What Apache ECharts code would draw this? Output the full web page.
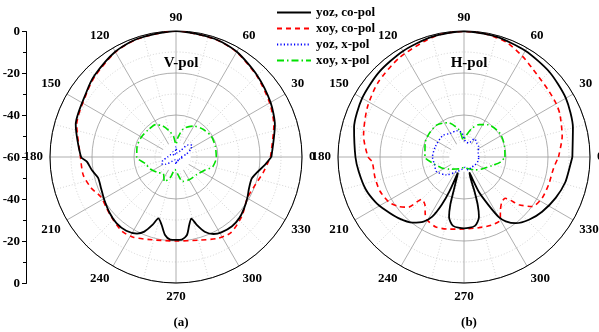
<!DOCTYPE html>
<html>
<head>
<meta charset="utf-8">
<script src="https://cdn.jsdelivr.net/npm/echarts@6.0.0/dist/echarts.min.js"></script>
<style>
  html, body { margin: 0; background: #fff; }
  #chart { width: 599px; height: 332px; }
</style>
</head>
<body>
<div id="chart"></div>
<script>
// angle ticks and the dB scale on the left ruler
const angleTicks = [0, 30, 60, 90, 120, 150, 180, 210, 240, 270, 300, 330];
const dbTicks = ['0', '-20', '-40', '-60', '-40', '-20', '0'];
const seriesNames = ['yoz, co-pol', 'xoy, co-pol', 'yoz, x-pol', 'xoy, x-pol'];

// (a) V-pol
const vYozCoAng = [0, 18, 30, 45, 60, 72, 90, 108, 120, 135, 144, 162, 180, 183, 189, 195, 203, 211, 220, 228, 236, 243, 247, 251, 254, 258, 262, 266, 270, 274, 278, 281, 284, 287, 291, 296, 301, 309, 316, 323, 330, 337, 344, 349, 355, 360];
const vYozCoDb = [-14.6, -10.5, -8.0, -5.2, -2.1, -0.8, 0, -0.8, -2.1, -5.1, -7.3, -9.8, -14.8, -17.5, -19.5, -21.6, -21.3, -20.2, -18.7, -17.6, -17.6, -19.1, -21.4, -25.9, -29.6, -27, -22.5, -20.6, -20.5, -20.6, -22.5, -27, -29.8, -26.2, -21.9, -19.2, -18.1, -17.6, -18.1, -19.4, -20.8, -22.2, -22.5, -20.8, -17.5, -14.6];
const vXoyCoAng = [0, 18, 30, 45, 60, 72, 90, 108, 120, 135, 144, 162, 180, 191, 200, 208, 216, 223, 234, 242, 254, 270, 285, 297, 306, 318, 330, 340, 350, 357, 360];
const vXoyCoDb = [-15, -11, -8.5, -5.5, -2.3, -0.9, 0, -0.9, -2.3, -5.5, -7.6, -10.3, -14.5, -15, -17, -19.5, -19, -18, -16.3, -16.7, -19, -20, -19, -16.5, -15.5, -17.8, -20.8, -20.1, -17.8, -16, -15];
const vYozXAng = [0, 15, 28, 37, 45, 55, 75, 90, 105, 120, 140, 160, 180, 195, 205, 215, 230, 250, 270, 290, 310, 330, 345, 360];
const vYozXDb = [-57.5, -55, -52, -50.5, -52, -56.5, -58, -55, -58.5, -57, -58.5, -57, -56, -53.5, -52.5, -54, -57.5, -58.5, -56.5, -58.5, -57.5, -58, -57, -57.5];
const vXoyXAng = [0, 15, 30, 45, 60, 75, 85, 90, 97, 105, 113, 122, 135, 150, 165, 180, 192, 205, 220, 233, 245, 255, 265, 275, 285, 300, 320, 335, 345, 355, 360];
const vXoyXDb = [-40.8, -40.6, -40.5, -41.5, -43, -46, -51, -54, -50, -47, -44, -41.8, -41.5, -41, -40.8, -41.3, -45, -46.5, -48.5, -50, -47, -50, -54, -52, -48, -47.5, -47, -45, -42, -41, -40.8];

// (b) H-pol
const hYozCoAng = [0, 15, 30, 45, 60, 75, 90, 105, 120, 135, 150, 165, 180, 188, 198, 207, 214, 223, 232, 238, 242, 245, 247, 248.5, 250, 253, 254, 256, 261, 270, 279, 284, 286, 287, 289.5, 291, 293, 297, 300, 303, 308, 316, 325, 336, 346, 356, 360];
const hYozCoDb = [-8.4, -6.3, -4, -2.6, -1.6, -0.7, -0.2, -0.8, -1.8, -2.8, -4, -5.8, -8.3, -9.4, -10.7, -12.7, -14.8, -17.3, -20.3, -23.7, -27.8, -34.9, -42.2, -52, -51, -42.8, -36.2, -30.6, -26.8, -26, -26.8, -30.6, -36.2, -42.8, -52, -52, -42, -34.3, -27.1, -23.5, -20, -17, -14.6, -12.2, -10.3, -9.2, -8.4];
const hXoyCoAng = [0, 12, 24, 30, 38, 52, 60, 70, 80, 90, 100, 107, 123, 139, 153, 168, 180, 183, 193, 202, 211, 217, 222, 225, 231, 236, 240, 248, 258, 270, 282, 292, 300, 304, 310, 315, 319, 324, 332, 342, 353, 360];
const hXoyCoDb = [-15, -12.2, -10, -9.3, -8.8, -6.8, -4.5, -1.7, -0.5, -0.2, -0.5, -1.4, -3.6, -5.8, -8.3, -11.1, -14.3, -16.2, -16.5, -16.8, -18.3, -20.9, -24.3, -31.5, -30.5, -27, -25.2, -24.1, -24.9, -25.7, -25.6, -25, -25.4, -29, -32, -32.2, -25.4, -19.9, -18, -17.6, -17, -15];
const hYozXAng = [0, 15, 35, 47, 60, 72, 85, 95, 105, 120, 135, 160, 180, 195, 208, 225, 243, 260, 275, 288, 305, 324, 345, 360];
const hYozXDb = [-53, -53, -51.5, -51, -50, -53, -52.5, -48.5, -47, -47, -45.6, -45.5, -45, -45.5, -45.2, -48, -52, -54, -55, -53.5, -54, -53.5, -53, -53];
const hXoyXAng = [0, 15, 33, 53, 65, 75, 85, 92, 100, 115, 130, 145, 160, 180, 190, 205, 220, 235, 250, 270, 290, 310, 326, 343, 352, 360];
const hXoyXDb = [-40.5, -40, -39.5, -40.8, -43, -46, -50, -52, -47, -42, -40, -40, -40.3, -41.4, -44.5, -48, -51, -53, -54, -55, -54, -52, -49.7, -46, -42.5, -40.5];

const chart = echarts.init(document.getElementById('chart'));
const serif = 'Liberation Serif';
const styles = [
  { color: '#000000', type: 'solid', width: 1.8 },
  { color: '#ff0000', type: [5, 4], width: 1.6 },
  { color: '#0000ff', type: [1.2, 2.2], width: 1.5 },
  { color: '#00e000', type: [7, 3, 1.5, 3], width: 1.6 }
];

function polarLine(k, polarIndex, ang, db) {
  return {
    name: seriesNames[k], type: 'line', coordinateSystem: 'polar', polarIndex,
    data: ang.map((a, i) => [db[i], a]),
    symbol: 'none', smooth: 0.25, silent: true,
    lineStyle: styles[k], itemStyle: { color: styles[k].color },
    z: 10 - k
  };
}

function angleAxis(polarIndex) {
  return {
    polarIndex, type: 'value', min: 0, max: 360, interval: 30,
    startAngle: 0, clockwise: false, z: 0,
    axisLine: { lineStyle: { color: '#000', width: 1 } },
    axisTick: { show: false },
    axisLabel: {
      margin: 7, color: '#000', fontFamily: serif, fontWeight: 'bold', fontSize: 13,
      formatter: (v) => (angleTicks.includes(v) ? String(v) : '')
    },
    splitLine: { lineStyle: { color: '#9a9a9a', width: 0.8 } },
    minorTick: { show: false, splitNumber: 2 },
    minorSplitLine: { show: true, lineStyle: { color: '#c8c8c8', type: [1, 2], width: 0.8 } }
  };
}

function radiusAxis(polarIndex) {
  return {
    polarIndex, type: 'value', min: -60, max: 0, interval: 20, z: 0,
    axisLine: { show: false }, axisTick: { show: false }, axisLabel: { show: false },
    splitLine: { lineStyle: { color: '#9a9a9a', width: 0.8 } },
    minorTick: { show: false, splitNumber: 2 },
    minorSplitLine: { show: true, lineStyle: { color: '#c8c8c8', type: [1, 2], width: 0.8 } }
  };
}

const titleFont = { fontFamily: serif, fontWeight: 'bold', color: '#000' };

chart.setOption({
  animation: false,
  title: [
    { text: 'V-pol', left: 176, top: 51, textAlign: 'center', textStyle: { ...titleFont, fontSize: 15 } },
    { text: 'H-pol', left: 464, top: 51, textAlign: 'center', textStyle: { ...titleFont, fontSize: 15 } },
    { text: '(a)', left: 176, top: 311, textAlign: 'center', textStyle: { ...titleFont, fontSize: 13 } },
    { text: '(b)', left: 464, top: 311, textAlign: 'center', textStyle: { ...titleFont, fontSize: 13 } }
  ],
  legend: {
    orient: 'vertical', left: 271, top: 1,
    itemWidth: 34, itemHeight: 10, itemGap: 3,
    data: seriesNames,
    itemStyle: { opacity: 0 },
    textStyle: { fontFamily: serif, fontWeight: 'bold', fontSize: 13, color: '#000' }
  },
  grid: { left: 25, top: 31.5, width: 1, height: 252 },
  xAxis: { type: 'value', show: false },
  yAxis: {
    type: 'value', min: -60, max: 60, interval: 20,
    axisLine: { show: true, lineStyle: { color: '#000' } },
    axisTick: { show: true, length: 4, lineStyle: { color: '#000' } },
    minorTick: { show: true, splitNumber: 2, length: 3, lineStyle: { color: '#000' } },
    splitLine: { show: false },
    axisLabel: {
      margin: 6, color: '#000', fontFamily: serif, fontWeight: 'bold', fontSize: 13,
      formatter: (v) => dbTicks[Math.round((60 - v) / 20)]
    }
  },
  polar: [
    { center: [176, 157], radius: 126 },
    { center: [464, 157], radius: 126 }
  ],
  angleAxis: [angleAxis(0), angleAxis(1)],
  radiusAxis: [radiusAxis(0), radiusAxis(1)],
  series: [
    polarLine(0, 0, vYozCoAng, vYozCoDb),
    polarLine(1, 0, vXoyCoAng, vXoyCoDb),
    polarLine(2, 0, vYozXAng, vYozXDb),
    polarLine(3, 0, vXoyXAng, vXoyXDb),
    polarLine(0, 1, hYozCoAng, hYozCoDb),
    polarLine(1, 1, hXoyCoAng, hXoyCoDb),
    polarLine(2, 1, hYozXAng, hYozXDb),
    polarLine(3, 1, hXoyXAng, hXoyXDb)
  ]
});

// blank hub in the middle of each dial, where the spokes stop
const hubs = [0, 1].map((pi) => {
  const c = chart.convertToPixel({ polarIndex: pi }, [-60, 0]);
  const e = chart.convertToPixel({ polarIndex: pi }, [-53, 0]);
  return {
    type: 'circle', z: 1, silent: true,
    shape: { cx: c[0], cy: c[1], r: Math.abs(e[0] - c[0]) },
    style: { fill: '#fff' }
  };
});
chart.setOption({ graphic: hubs });
</script>
</body>
</html>
